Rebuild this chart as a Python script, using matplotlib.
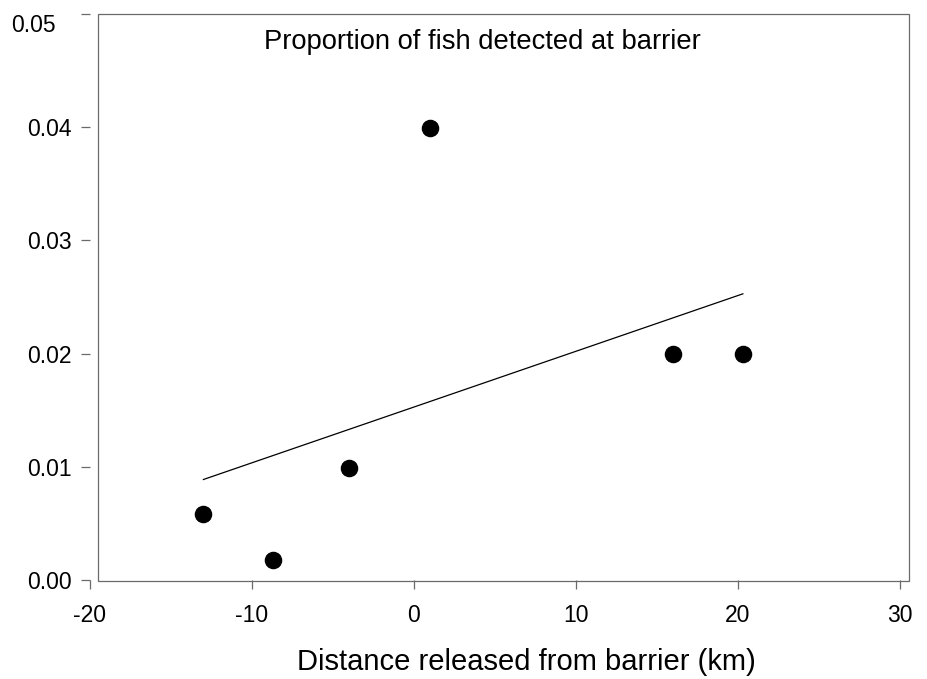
import numpy as np
import matplotlib
matplotlib.use("Agg")
import matplotlib.pyplot as plt
import matplotlib.transforms as mtransforms
from matplotlib.patches import Rectangle

plt.rcParams['font.family'] = ['Liberation Sans', 'DejaVu Sans']
plt.rcParams['axes.unicode_minus'] = False

# release distance (km) and proportion detected
distance = [-13.0, -8.7, -4.0, 1.0, 16.0, 20.3]
proportion = [0.0058, 0.0018, 0.0099, 0.0399, 0.0200, 0.0200]

x_ticks = [-20, -10, 0, 10, 20, 30]
y_ticks = [0.00, 0.01, 0.02, 0.03, 0.04, 0.05]
y_tick_labels = ['0.00', '0.01', '0.02', '0.03', '0.04', '0.05']

W, H = 927, 679
fig = plt.figure(figsize=(W / 100, H / 100), dpi=100)

# data area (ticks sit on these edges)
ax = fig.add_axes([90 / W, (H - 580) / H, 810 / W, 566 / H])
ax.set_xlim(-20, 30)
ax.set_ylim(0, 0.05)
for s in ax.spines.values():
    s.set_visible(False)
ax.patch.set_alpha(0)

# frame is offset a little from the axis ticks, SigmaPlot style
fig.patches.append(Rectangle((98 / W, (H - 581) / H), 811 / W, 567 / H,
                             transform=fig.transFigure, fill=False,
                             edgecolor='#6a6a6a', linewidth=0.9, zorder=0))

ax.scatter(distance, proportion, s=135, color='black', zorder=3, clip_on=False)

# linear regression over the plotted points
slope, intercept = np.polyfit(distance, proportion, 1)
fit_x = np.array([min(distance), max(distance)])
ax.plot(fit_x, slope * fit_x + intercept, color='black', linewidth=0.9)

ax.set_xticks(x_ticks)
ax.set_yticks(y_ticks)
ax.set_yticklabels(y_tick_labels)
ax.tick_params(direction='out', length=6.5, width=0.9, color='#6a6a6a',
               labelsize=16.5)
ax.tick_params(axis='y', pad=7)
ax.tick_params(axis='x', pad=11)

# top label sits lower-left of its tick in the original
top = ax.get_yticklabels()[-1]
top.set_transform(top.get_transform() +
                  mtransforms.ScaledTranslation(-15 / 100, -9 / 100, fig.dpi_scale_trans))

ax.text(0.484, 0.95, 'Proportion of fish detected at barrier',
        transform=ax.transAxes, ha='center', va='center', fontsize=19.7)
fig.text(526 / W, (H - 662) / H, 'Distance released from barrier (km)',
         ha='center', va='center', fontsize=21)

fig.savefig('out.png', dpi=100)
